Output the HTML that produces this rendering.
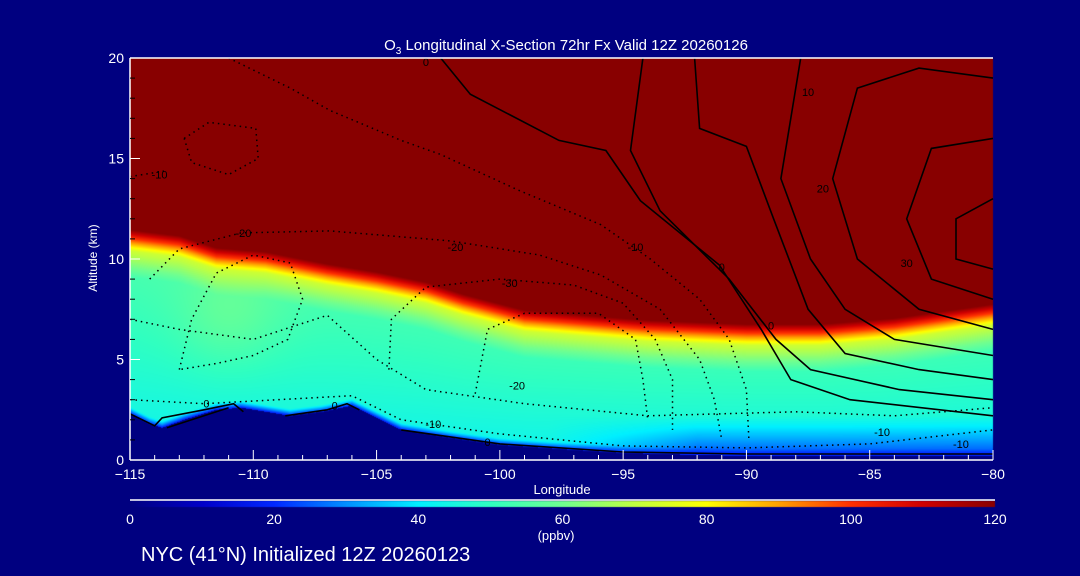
<!DOCTYPE html>
<html><head><meta charset="utf-8"><style>
html,body{margin:0;padding:0;background:#000080;}
#wrap{position:relative;width:1080px;height:576px;background:#000080;overflow:hidden;font-family:"Liberation Sans",sans-serif;}
canvas{position:absolute;left:0;top:0;}
svg{position:absolute;left:0;top:0;}
text{fill:#fff;font-family:"Liberation Sans",sans-serif;}
</style></head><body>
<div id="wrap">
<canvas id="cv" width="1080" height="576"></canvas>
<svg id="sv" width="1080" height="576"></svg>
</div>
<script>
// ---- data ----
const tropLon=[-115,-113,-111.5,-109.5,-107,-105,-103,-101.5,-99,-96,-94,-90,-87,-84,-80];
const tropAlt=[11.3,11.0,10.4,10.2,9.6,9.2,8.7,8.1,7.3,7.0,6.8,6.6,6.6,6.9,7.6];
const surfLon=[-115,-114.2,-113.7,-112.8,-111.5,-110.5,-109.5,-108.5,-107.2,-106,-105,-104,-102,-100,-97,-95,-92,-90,-87,-85,-82,-80];
const surfAlt=[2.3,1.8,1.6,2.0,2.5,2.6,2.4,2.2,2.4,2.7,2.1,1.5,1.1,0.75,0.5,0.35,0.25,0.2,0.2,0.2,0.2,0.2];
const cbTicks=[0,20,40,60,80,100,120];
const xTicks=[-115,-110,-105,-100,-95,-90,-85,-80];
const yTicks=[0,5,10,15,20];
const solidContours=[
 [[-102.4,20],[-101.2,18.2],[-97.6,15.9],[-95.7,15.4],[-94.3,12.9],[-91.1,9.7],[-89.4,6.5],[-88.2,4.0],[-85.8,3.0],[-80,2.2]],
 [[-94.2,20],[-94.7,15.4],[-93.5,12.4],[-90.7,9.0],[-88.8,6.0],[-87.4,4.5],[-83.8,3.5],[-80,3.0]],
 [[-92.1,20],[-91.9,16.5],[-90.0,15.6],[-88.9,12],[-87.5,7.5],[-86,5.3],[-83,4.5],[-80,4]],
 [[-87.8,20],[-88.6,14],[-87.4,10],[-86,7.5],[-84,6],[-80,5.2]],
 [[-80,19],[-83,19.5],[-85.5,18.5],[-86.5,14],[-85.5,10],[-83,7.5],[-80,6.5]],
 [[-80,16],[-82.5,15.5],[-83.5,12],[-82.5,9],[-80,8]],
 [[-80,13],[-81.5,12],[-81.5,10],[-80,9.5]],
 [[-115,2.3],[-114,1.7],[-113.7,2.1],[-112,2.5],[-110.8,2.8],[-110.4,2.4]],
 [[-113.5,1.6],[-112,2.2],[-111,2.6]],
 [[-108.7,2.2],[-107,2.5],[-106.2,2.8],[-105.7,2.5]],
 [[-104,1.5],[-100,0.8],[-95,0.4],[-90,0.3],[-85,0.3],[-80,0.3]]
];
const dottedContours=[
 [[-111,20],[-108.5,18.5],[-106.9,17.4],[-104,15.9],[-102.4,15.2],[-99.2,13.4],[-95.9,11.7],[-93.9,10],[-91.9,8],[-90.7,6],[-90,3.5],[-89.9,1]],
 [[-115,14.1],[-113.5,14.4]],
 [[-114.2,9],[-113,10.5],[-110.5,11.3],[-106.9,11.4],[-102,10.9],[-98.4,10.2],[-95.9,9.2],[-93.5,7.5],[-91.9,5],[-91.3,3],[-91,1]],
 [[-104.5,4.5],[-104.4,7],[-103,8.6],[-100,9],[-97,8.7],[-95,7.8],[-93.7,6],[-93,4],[-93,1.5]],
 [[-101,3.3],[-100.5,6.5],[-99,7.3],[-96,7.3],[-94.5,6],[-94.2,4],[-94,2]],
 [[-113,4.5],[-112.5,7],[-111.5,9.3],[-110,10.2],[-108.5,9.8],[-108,8],[-108.6,6],[-110,5.2],[-111.5,4.8],[-113,4.5]],
 [[-112.8,16],[-111.8,16.8],[-109.9,16.5],[-109.8,15],[-111,14.2],[-112.5,14.8],[-112.8,16]],
 [[-115,3],[-112,2.8],[-106,3.2],[-104,2],[-100,1.3],[-95,0.7],[-90,0.6],[-85,0.8],[-80,1.5]],
 [[-115,7],[-113,6.5],[-110,6],[-107,7.2],[-105,5],[-103,3.5],[-99,2.8],[-94,2.2],[-88,2.4],[-84,2.2],[-80,2.6]]
];
const contourLabels=[["-10",-113.8,14.2],["-20",-110.4,11.3],["-20",-101.8,10.6],["-10",-94.5,10.6],["-30",-99.6,8.8],["-20",-99.3,3.7],["-10",-102.7,1.8],["0",-100.5,0.9],["0",-103,19.8],["10",-87.5,18.3],["20",-86.9,13.5],["30",-83.5,9.8],["0",-91,9.6],["0",-89,6.7],["-10",-84.5,1.4],["-10",-81.3,0.8],["0",-111.9,2.8],["0",-106.7,2.7]];
// ---- axes ----
const X0=130,X1=993,Y0=460,Y1=58;
const xs=l=>X0+(l+115)/35*(X1-X0);
const ys=a=>Y0-a/20*(Y0-Y1);
function interp(L,A,l){if(l<=L[0])return A[0];for(let i=1;i<L.length;i++){if(l<=L[i]){const t=(l-L[i-1])/(L[i]-L[i-1]);return A[i-1]+t*(A[i]-A[i-1]);}}return A[A.length-1];}
const cmap=[[0,[0,0,128]],[10,[0,0,200]],[20,[0,40,255]],[30,[0,144,255]],[40,[0,240,255]],[50,[48,255,192]],[60,[112,255,144]],[70,[192,255,64]],[80,[255,255,0]],[90,[255,160,0]],[100,[255,48,0]],[110,[208,0,0]],[120,[136,0,0]]];
function col(v){v=Math.max(0,Math.min(120,v));for(let i=1;i<cmap.length;i++){if(v<=cmap[i][0]){const t=(v-cmap[i-1][0])/10;return cmap[i-1][1].map((c,k)=>Math.round(c+t*(cmap[i][1][k]-c)));}}return cmap[12][1];}
function field(l,z){
 const h=interp(tropLon,tropAlt,l), s=interp(surfLon,surfAlt,l);
 if(z<s)return -1;
 let v=42+14*Math.min(1,z/h);
 v+=6*Math.exp(-Math.pow((l+111)/2.2,2))*Math.exp(-Math.pow((z-7)/2.5,2));
 const e=Math.max(0,Math.min(1,(l+98)/6));
 if(z<2.2)v-=22*e*(1-z/2.2);
 const d=z-s; if(d<0.35)v=18+(v-18)*d/0.35;
 const tz=z-h;
 if(tz>-2.2){
   if(tz<-0.9){v=v+(72-v)*((tz+2.2)/1.3);}
   else if(tz<0.15){v=72+48*((tz+0.9)/1.05);}
   else v=125;
 }
 return v;
}
const cv=document.getElementById('cv'),ctx=cv.getContext('2d');
const W=X1-X0,H=Y0-Y1,img=ctx.createImageData(W,H);
for(let py=0;py<H;py++){const z=(Y0-(Y1+py+0.5))/(Y0-Y1)*20;for(let px=0;px<W;px++){const l=-115+(px+0.5)/W*35;const v=field(l,z);const c=v<0?[0,0,128]:col(v);const i=(py*W+px)*4;img.data[i]=c[0];img.data[i+1]=c[1];img.data[i+2]=c[2];img.data[i+3]=255;}}
ctx.putImageData(img,X0,Y1);
// colorbar
const cbg=ctx.createLinearGradient(130,0,995,0);
cmap.forEach(s=>cbg.addColorStop(s[0]/120,'rgb('+s[1].join(',')+')'));
ctx.fillStyle=cbg;ctx.fillRect(130,501,865,6);
// ---- svg overlay ----
const NS='http://www.w3.org/2000/svg',sv=document.getElementById('sv');
function mk(t,a,p){const e=document.createElementNS(NS,t);for(const k in a)e.setAttribute(k,a[k]);(p||sv).appendChild(e);return e;}
const pathOf=pts=>pts.map((p,i)=>(i?'L':'M')+xs(p[0]).toFixed(1)+','+ys(p[1]).toFixed(1)).join('');
solidContours.forEach(c=>{const e=mk('path',{d:pathOf(c),fill:'none',stroke:'#000','stroke-width':1.6});

});
dottedContours.forEach(c=>{const e=mk('path',{d:pathOf(c),fill:'none',stroke:'#000','stroke-width':1.5,'stroke-dasharray':'1.5 4'});

});
contourLabels.forEach(c=>{const e=mk('text',{x:xs(c[1]),y:ys(c[2])+4,'font-size':11,'text-anchor':'middle',style:'fill:#000'});e.textContent=c[0];

});
// axes
let e=mk('line',{x1:X0,y1:Y1,x2:X1,y2:Y1,stroke:'#fff','stroke-width':1.5});


e=mk('line',{x1:X0,y1:Y0,x2:X1,y2:Y0,stroke:'#fff','stroke-width':1.5});


e=mk('line',{x1:X0,y1:Y1,x2:X0,y2:Y0,stroke:'#fff','stroke-width':1.5});


for(let l=-115;l<=-80;l++){const maj=xTicks.includes(l);mk('line',{x1:xs(l),y1:Y0,x2:xs(l),y2:Y0-(maj?10:5),stroke:'#fff'});}
xTicks.forEach(l=>{const t=mk('text',{x:xs(l),y:Y0+19,'font-size':14,'text-anchor':'middle'});t.textContent=(l<0?'\u2212':'')+Math.abs(l);

});
for(let a=0;a<=20;a++){const maj=yTicks.includes(a);mk('line',{x1:X0,y1:ys(a),x2:X0+(maj?10:5),y2:ys(a),stroke:a%5?'#000':'#fff'});}
yTicks.forEach(a=>{const t=mk('text',{x:124,y:ys(a)+5,'font-size':14,'text-anchor':'end'});t.textContent=a;

});
e=mk('line',{x1:130,y1:500,x2:995,y2:500,stroke:'#fff','stroke-width':1.5});


cbTicks.forEach(v=>{const t=mk('text',{x:130+v/120*865,y:524,'font-size':14,'text-anchor':'middle'});t.textContent=v;

});
</script>
<svg width="1080" height="576" style="position:absolute;left:0;top:0;pointer-events:none">
<text x="566" y="50" font-size="15" text-anchor="middle">O<tspan font-size="10" dy="4">3</tspan><tspan dy="-4"> Longitudinal X-Section 72hr  Fx Valid 12Z 20260126</tspan></text>
<text x="97" y="258" font-size="12" text-anchor="middle" transform="rotate(-90 97 258)">Altitude (km)</text>
<text x="562" y="494" font-size="13" text-anchor="middle">Longitude</text>
<text x="556" y="540" font-size="13" text-anchor="middle">(ppbv)</text>
<text x="141" y="561" font-size="20">NYC (41°N) Initialized 12Z 20260123</text>
</svg>
</body></html>
